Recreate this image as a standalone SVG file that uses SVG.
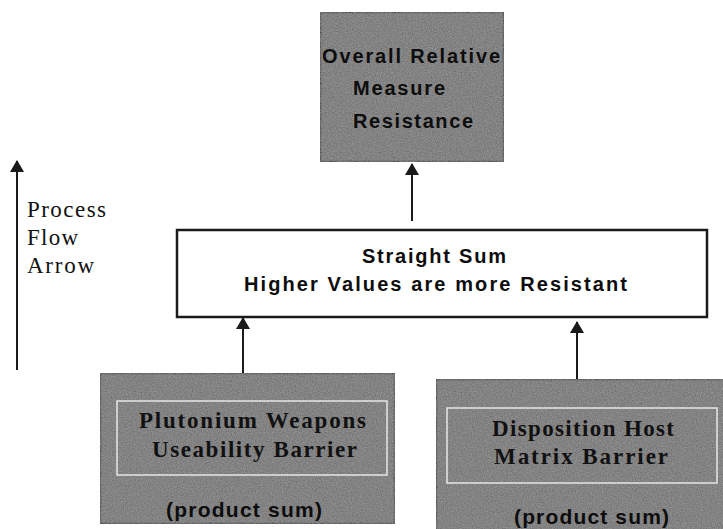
<svg xmlns="http://www.w3.org/2000/svg" width="723" height="529" viewBox="0 0 723 529">
  <style>
    .gray { fill: #626262; stroke: #1a1a1a; stroke-width: 2.5; }
    .plain { fill: #ffffff; stroke: #1a1a1a; stroke-width: 2.5; }
    .inner { fill: none; stroke: #e6e6e6; stroke-width: 1.5; }
    .sans { font-family: "Liberation Sans", Arial, sans-serif; font-weight: bold; fill: #0d0d0d; }
    .serif { font-family: "Liberation Serif", "Times New Roman", serif; fill: #111; }
    .conn { stroke: #1a1a1a; stroke-width: 2; fill: none; marker-end: url(#head); }
  </style>
  <defs>
    <marker id="head" viewBox="0 0 12 14" refX="11" refY="7" markerWidth="12" markerHeight="14" markerUnits="userSpaceOnUse" orient="auto">
      <path d="M0,0 L12,7 L0,14 Z" fill="#1a1a1a"/>
    </marker>
    <filter id="grain" x="0" y="0" width="100%" height="100%">
      <feTurbulence type="fractalNoise" baseFrequency="0.8" numOctaves="2" seed="3" result="n"/>
      <feColorMatrix in="n" type="matrix" values="0 0 0 0 0.55  0 0 0 0 0.55  0 0 0 0 0.55  0 0 0 0.5 0" result="g"/>
      <feComposite in="g" in2="SourceGraphic" operator="in" result="gi"/>
      <feMerge><feMergeNode in="SourceGraphic"/><feMergeNode in="gi"/></feMerge>
    </filter>
  </defs>

  <!-- legend: process direction -->
  <g id="legend">
    <line class="conn" x1="17" y1="370" x2="17" y2="161"/>
    <text class="serif" font-size="23" x="27" y="217" textLength="79" lengthAdjust="spacing">Process</text>
    <text class="serif" font-size="23" x="27" y="245" textLength="51" lengthAdjust="spacing">Flow</text>
    <text class="serif" font-size="23" x="27" y="273" textLength="67" lengthAdjust="spacing">Arrow</text>
  </g>

  <g id="overall">
    <rect class="gray" filter="url(#grain)" x="320" y="12" width="184" height="150"/>
    <text class="sans" font-size="20" x="322" y="63" textLength="178" lengthAdjust="spacing">Overall Relative</text>
    <text class="sans" font-size="20" x="353" y="95" textLength="92" lengthAdjust="spacing">Measure</text>
    <text class="sans" font-size="20" x="353" y="128" textLength="120" lengthAdjust="spacing">Resistance</text>
  </g>

  <g id="sum">
    <rect class="plain" x="177" y="230" width="530" height="87"/>
    <text class="sans" font-size="20" x="362" y="263" textLength="144" lengthAdjust="spacing">Straight Sum</text>
    <text class="sans" font-size="20" x="244" y="291" textLength="383" lengthAdjust="spacing">Higher Values are more Resistant</text>
  </g>

  <g id="weapons">
    <rect class="gray" filter="url(#grain)" x="100" y="373" width="295" height="151"/>
    <rect class="inner" x="117" y="401" width="270" height="74"/>
    <text class="serif" font-weight="bold" font-size="23" x="139" y="428" textLength="227" lengthAdjust="spacing">Plutonium Weapons</text>
    <text class="serif" font-weight="bold" font-size="23" x="152" y="457" textLength="205" lengthAdjust="spacing">Useability Barrier</text>
    <text class="sans" font-size="21" x="166" y="517" textLength="156" lengthAdjust="spacing">(product sum)</text>
  </g>

  <g id="disposition">
    <rect class="gray" filter="url(#grain)" x="436" y="379" width="292" height="160"/>
    <rect class="inner" x="447" y="408" width="270" height="75"/>
    <text class="serif" font-weight="bold" font-size="23" x="492" y="436" textLength="182" lengthAdjust="spacing">Disposition Host</text>
    <text class="serif" font-weight="bold" font-size="23" x="494" y="464" textLength="174" lengthAdjust="spacing">Matrix Barrier</text>
    <text class="sans" font-size="21" x="514" y="524" textLength="155" lengthAdjust="spacing">(product sum)</text>
  </g>

  <g id="connectors">
    <line class="conn" x1="412" y1="221" x2="412" y2="164"/>
    <line class="conn" x1="243" y1="373" x2="243" y2="318"/>
    <line class="conn" x1="577" y1="379" x2="577" y2="322"/>
  </g>
</svg>
